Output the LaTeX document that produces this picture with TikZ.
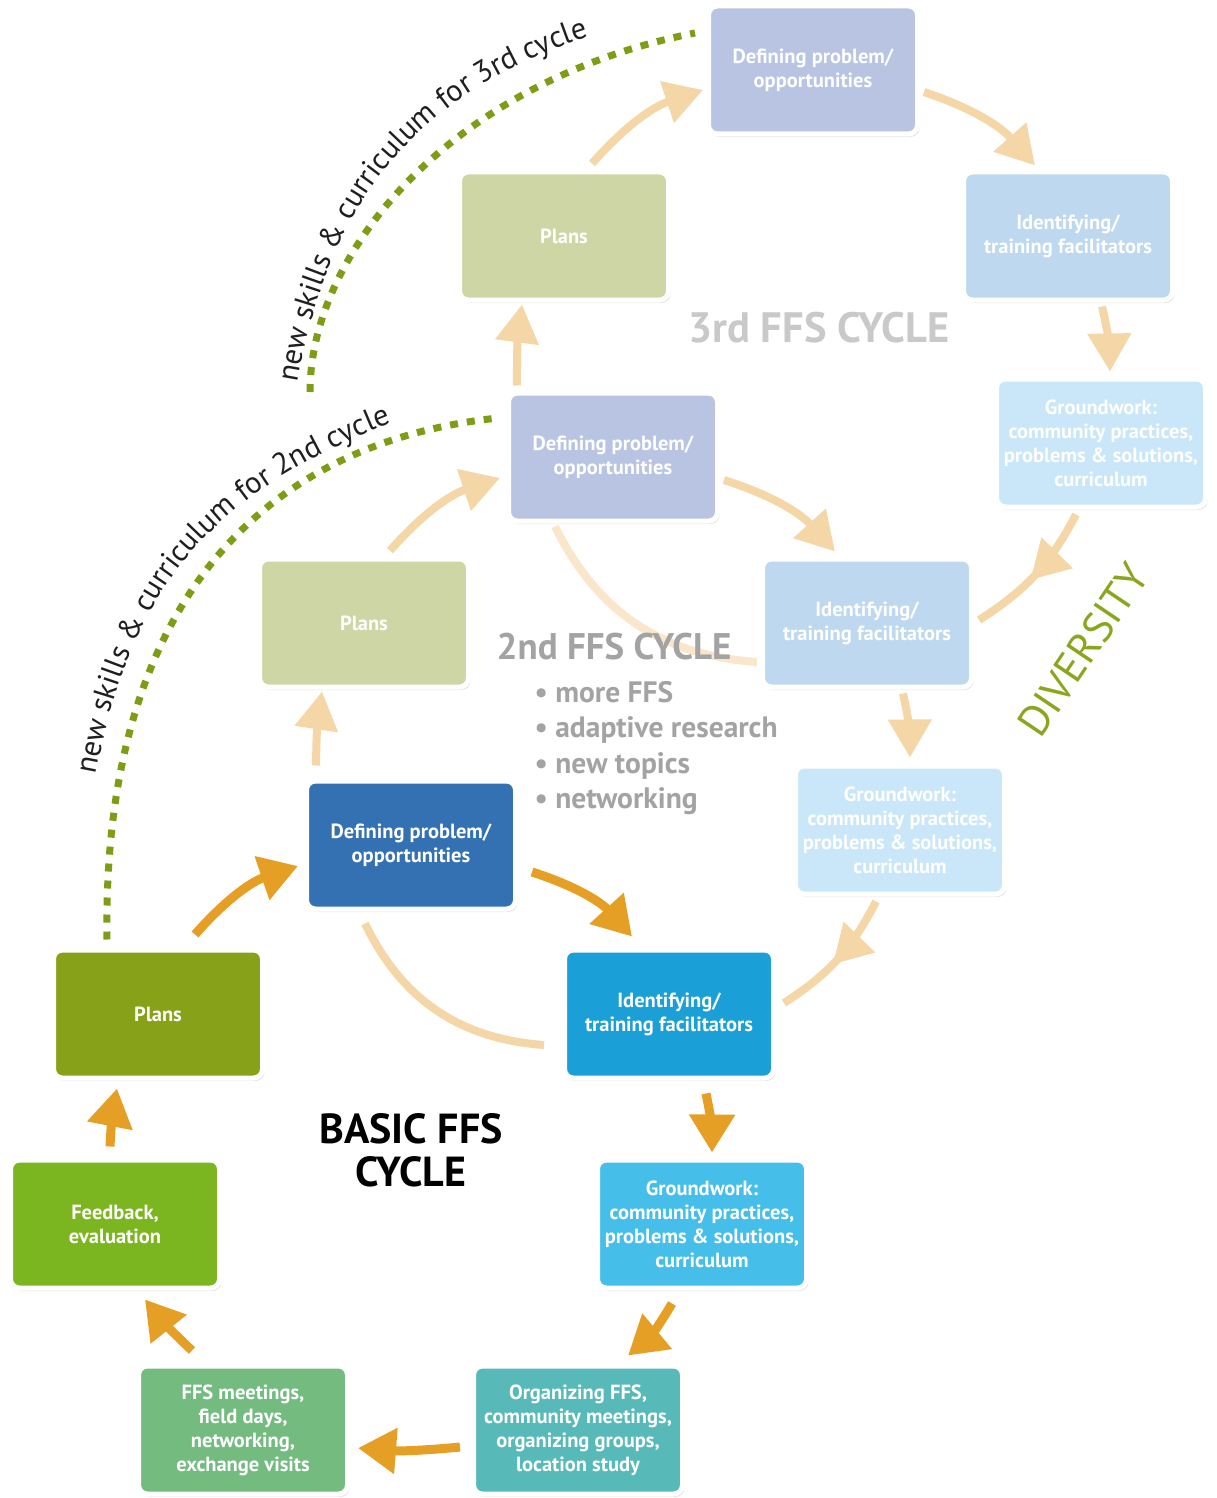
\documentclass[tikz,border=0pt]{standalone}
\usepackage{fontspec}
\setmainfont{PT Sans}
\usetikzlibrary{arrows.meta,shadows,decorations.text,decorations.markings}

\definecolor{defdark}{HTML}{3371B3}
\definecolor{iddark}{HTML}{1A9FD7}
\definecolor{gwdark}{HTML}{45BEEA}
\definecolor{orgteal}{HTML}{57BAB8}
\definecolor{meetgreen}{HTML}{74BB80}
\definecolor{fbgreen}{HTML}{7BB51F}
\definecolor{plangreen}{HTML}{87A118}
\definecolor{deflight}{HTML}{B8C4E2}
\definecolor{idlight}{HTML}{BDD8EF}
\definecolor{gwlight}{HTML}{C9E7F8}
\definecolor{planlight}{HTML}{CFD6A6}
\definecolor{ffsorange}{HTML}{E59F24}
\definecolor{ffslight}{HTML}{F5D6A7}
\definecolor{ffsfaint}{HTML}{FAE6CA}
\definecolor{skillgreen}{HTML}{7F9D14}
\definecolor{diversegreen}{HTML}{8AA61E}
\definecolor{cyclegray}{HTML}{A3A3A3}
\definecolor{cyclepale}{HTML}{C9C9C9}

\newcommand\boxfont{\fontsize{20.5}{24}\selectfont\bfseries}
\newcommand\skillfont{\fontsize{30.5}{30}\selectfont}

\begin{document}
\begin{tikzpicture}[x=1pt,y=-1pt,
    ffsbox/.style={draw=white, line width=5pt, rounded corners=9pt,
        minimum width=209pt, minimum height=128pt, inner sep=0pt,
        align=center, text=white, font=\boxfont,
        drop shadow={opacity=0.2, shadow xshift=2pt, shadow yshift=-3pt}},
    basicarrow/.style={draw=ffsorange, line width=9pt,
        -{Triangle[width=44pt,length=38pt]}},
    fadedarrow/.style={draw=ffslight, line width=8pt,
        -{Triangle[width=42pt,length=38pt]}},
    midarrow/.style={draw=ffslight, line width=8pt, postaction={decorate},
        decoration={markings, mark=at position 0.55 with
            {\arrow[ffslight]{Triangle[width=42pt,length=38pt]}}}},
    skilldots/.style={draw=skillgreen, line width=7pt, dash pattern=on 8pt off 9pt},
    skilltext/.style={decorate, decoration={text along path, text color=black!88,
        text={|\skillfont|#1}}}]

    \fill[white] (0,0) rectangle (1216,1498);
    \useasboundingbox (0,0) rectangle (1216,1498);

    % basic cycle
    \node[ffsbox, fill=defdark] (def1) at (411,845) {Defining problem/\\opportunities};
    \node[ffsbox, fill=iddark] (id1) at (669,1014) {Identifying/\\training facilitators};
    \node[ffsbox, fill=gwdark] (gw1) at (702,1224) {Groundwork:\\community practices,\\problems \& solutions,\\curriculum};
    \node[ffsbox, fill=orgteal] (org1) at (578,1430) {Organizing FFS,\\community meetings,\\organizing groups,\\location study};
    \node[ffsbox, fill=meetgreen] (ffs1) at (243,1430) {FFS meetings,\\field days,\\networking,\\exchange visits};
    \node[ffsbox, fill=fbgreen] (fb1) at (115,1224) {Feedback,\\evaluation};
    \node[ffsbox, fill=plangreen] (plans1) at (158,1014) {Plans};

    % 2nd cycle
    \node[ffsbox, fill=deflight] (def2) at (613,457) {Defining problem/\\opportunities};
    \node[ffsbox, fill=idlight] (id2) at (867,623) {Identifying/\\training facilitators};
    \node[ffsbox, fill=gwlight] (gw2) at (900,830) {Groundwork:\\community practices,\\problems \& solutions,\\curriculum};
    \node[ffsbox, fill=planlight] (plans2) at (364,623) {Plans};

    % 3rd cycle
    \node[ffsbox, fill=deflight] (def3) at (813,70) {Defining problem/\\opportunities};
    \node[ffsbox, fill=idlight] (id3) at (1068,236) {Identifying/\\training facilitators};
    \node[ffsbox, fill=gwlight] (gw3) at (1101,443) {Groundwork:\\community practices,\\problems \& solutions,\\curriculum};
    \node[ffsbox, fill=planlight] (plans3) at (564,236) {Plans};

    % basic arrows
    \draw[basicarrow] ([shift={(37,-13)}]plans1.north) to[bend left=15] ([shift={(-6,21)}]def1.west);
    \draw[basicarrow] ([shift={(14,27)}]def1.east) to[bend left=15] ([shift={(-37,-11)}]id1.north);
    \draw[basicarrow] ([shift={(37,13)}]id1.south) to[bend left=6] ([shift={(10,-5)}]gw1.north);
    \draw[basicarrow] ([shift={(-30,13)}]gw1.south) to[bend left=10] ([shift={(50,-8)}]org1.north);
    \draw[basicarrow] ([shift={(-11,17)}]org1.west) to[bend left=5] ([shift={(8,18)}]ffs1.east);
    \draw[basicarrow] ([shift={(-51,-13)}]ffs1.north) to[bend left=4] ([shift={(30,9)}]fb1.south);
    \draw[basicarrow] ([shift={(-5,-11)}]fb1.north) to[bend left=4] ([shift={(-41,8)}]plans1.south);
    \draw[ffslight, line width=8pt] ([shift={(-46,12)}]def1.south) to[bend right=30] ([shift={(-18,31)}]id1.west);

    % 2nd cycle arrows
    \draw[fadedarrow] ([shift={(-95,-13)}]def1.north) to[bend left=4] ([shift={(-42,2)}]plans2.south);
    \draw[fadedarrow] ([shift={(26,-6)}]plans2.north) to[bend left=15] ([shift={(-6,21)}]def2.west);
    \draw[fadedarrow] ([shift={(4,23)}]def2.east) to[bend left=15] ([shift={(-32,-5)}]id2.north);
    \draw[fadedarrow] ([shift={(36,4)}]id2.south) to[bend left=6] ([shift={(10,-6)}]gw2.north);
    \draw[midarrow] ([shift={(-24,5)}]gw2.south) to[bend left=15] ([shift={(8,-11)}]id1.east);
    \draw[ffsfaint, line width=8pt] ([shift={(-58,3)}]def2.south) to[bend right=30] ([shift={(-3,39)}]id2.west);

    % 3rd cycle arrows
    \draw[fadedarrow] ([shift={(-96,-5)}]def2.north) to[bend left=4] ([shift={(-42,2)}]plans3.south);
    \draw[fadedarrow] ([shift={(28,-6)}]plans3.north) to[bend left=15] ([shift={(-3,20)}]def3.west);
    \draw[fadedarrow] ([shift={(4,22)}]def3.east) to[bend left=15] ([shift={(-33,-4)}]id3.north);
    \draw[fadedarrow] ([shift={(34,4)}]id3.south) to[bend left=6] ([shift={(9,-5)}]gw3.north);
    \draw[midarrow] ([shift={(-25,5)}]gw3.south) to[bend left=15] ([shift={(5,-3)}]id2.east);

    % new skills lines
    \coordinate (skills3) at (310,392);
    \draw[skilldots] ([shift={(-51,-8)}]plans1.north) .. controls +(-5,-330) and +(-240,25) .. ([shift={(-8,-39)}]def2.west);
    \draw[skilldots] (skills3) .. controls +(0,-142) and +(-240,47) .. ([shift={(-11,-37)}]def3.west);
    \path[skilltext={new skills {\&} curriculum for 2nd cycle}]
        (96,775) .. controls (136,559) and (236,480) .. (424,410) -- (540,390);
    \path[skilltext={new skills {\&} curriculum for 3rd cycle}]
        (298,383) .. controls (331,186) and (431,79) .. (624,26) -- (720,8);

    % labels
    \node[font=\fontsize{42}{43}\selectfont\bfseries, align=center] (basiclabel) at (411,1150) {BASIC FFS\\CYCLE};
    \node[text=cyclegray, font=\fontsize{37}{37}\selectfont\bfseries] (cycle2label) at (614,647) {2nd FFS CYCLE};
    \node[text=cyclepale, font=\fontsize{42.5}{42}\selectfont\bfseries] (cycle3label) at (819,328) {3rd FFS CYCLE};
    \node[anchor=west, text=cyclegray, align=left, font=\fontsize{29.5}{35.5}\selectfont\bfseries] (topics) at (531,748) {• more FFS\\• adaptive research\\• new topics\\• networking};
    \node[rotate=56, text=diversegreen, font=\fontsize{43}{43}\selectfont] (diversity) at (1083,650) {DIVERSITY};
\end{tikzpicture}
\end{document}
